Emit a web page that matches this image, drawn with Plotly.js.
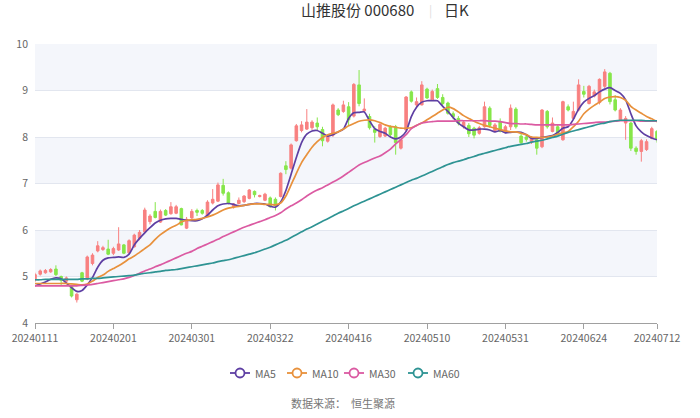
<!DOCTYPE html>
<html>
<head>
<meta charset="utf-8">
<script src="https://cdn.plot.ly/plotly-3.0.1.min.js"></script>
<style>html,body{margin:0;padding:0;background:#fff;}#chart{width:700px;height:418px;}</style>
</head>
<body>
<div id="chart"></div>
<script>
const dates = [
 '20240111','20240112','20240115','20240116','20240117','20240118','20240119','20240122','20240123','20240124','20240125','20240126','20240129','20240130','20240131',
 '20240201','20240202','20240205','20240206','20240207','20240208','20240219','20240220','20240221','20240222','20240223','20240226','20240227','20240228','20240229',
 '20240301','20240304','20240305','20240306','20240307','20240308','20240311','20240312','20240313','20240314','20240315','20240318','20240319','20240320','20240321','20240322','20240325','20240326','20240327','20240328','20240329',
 '20240401','20240402','20240403','20240408','20240409','20240410','20240411','20240412','20240415','20240416','20240417','20240418','20240419','20240422','20240423','20240424','20240425','20240426','20240429','20240430',
 '20240506','20240507','20240508','20240509','20240510','20240513','20240514','20240515','20240516','20240517','20240520','20240521','20240522','20240523','20240524','20240527','20240528','20240529','20240530','20240531',
 '20240603','20240604','20240605','20240606','20240607','20240611','20240612','20240613','20240614','20240617','20240618','20240619','20240620','20240621','20240624','20240625','20240626','20240627','20240628',
 '20240701','20240702','20240703','20240704','20240705','20240708','20240709','20240710','20240711','20240712'
];
const openP = [4.92,5.05,5.08,5.10,5.16,5.00,4.90,4.80,4.50,5.08,4.95,5.28,5.55,5.58,5.59,5.50,5.57,5.68,5.51,5.64,5.82,5.96,6.18,6.40,6.17,6.42,6.35,6.36,6.46,6.04,
 6.26,6.42,6.42,6.30,6.58,6.62,6.96,6.80,6.50,6.57,6.61,6.68,6.83,6.72,6.64,6.69,6.66,6.72,7.38,7.33,7.92,8.14,8.17,8.20,8.30,8.16,7.91,8.04,8.58,8.55,
 8.65,8.45,9.12,8.56,8.44,8.16,8.01,8.02,8.22,8.22,7.76,8.15,8.97,8.69,8.69,9.03,8.80,9.04,8.85,8.73,8.50,8.40,8.22,8.25,8.19,8.08,8.22,8.62,8.14,8.33,
 8.12,8.22,8.60,8.02,8.00,7.90,7.94,7.79,8.55,8.12,8.22,7.94,8.65,8.40,8.58,8.98,8.72,8.88,8.74,9.09,9.37,8.80,8.37,8.30,8.30,7.76,7.69,7.73,7.97,8.12];
const highP = [5.08,5.15,5.16,5.18,5.24,5.02,5.00,4.82,4.64,5.10,5.45,5.50,5.76,5.66,5.79,5.64,6.06,5.70,5.80,5.92,6.00,6.48,6.34,6.60,6.44,6.45,6.60,6.54,6.48,6.28,
 6.45,6.46,6.45,6.64,6.88,7.02,7.10,6.83,6.58,6.70,6.75,6.88,6.85,6.76,6.80,6.72,6.70,7.24,7.48,7.86,8.28,8.34,8.60,8.36,8.42,8.22,8.03,8.72,8.62,8.78,
 8.75,9.16,9.44,8.83,8.50,8.23,8.30,8.22,8.25,8.26,7.96,8.88,9.00,8.85,9.20,9.06,9.02,9.14,8.92,8.76,8.55,8.45,8.36,8.30,8.22,8.24,8.76,8.66,8.30,8.40,
 8.26,8.70,8.64,8.08,8.04,8.02,7.98,8.60,8.58,8.42,8.26,8.78,8.70,8.76,9.24,9.10,9.12,9.02,9.26,9.46,9.40,8.90,8.62,8.45,8.32,7.80,7.96,7.95,8.22,8.15];
const lowP = [4.88,5.02,5.06,5.08,5.01,4.82,4.87,4.55,4.44,4.88,4.92,5.24,5.52,5.55,5.46,5.46,5.55,5.48,5.49,5.62,5.78,5.94,6.12,6.25,6.15,6.30,6.33,6.34,6.10,6.02,
 6.22,6.30,6.33,6.28,6.55,6.60,6.74,6.55,6.46,6.55,6.58,6.66,6.70,6.70,6.62,6.48,6.42,6.70,7.20,7.30,7.90,8.10,8.15,8.15,8.14,7.80,7.88,8.00,8.45,8.52,
 8.25,8.42,8.66,8.52,8.16,7.88,7.98,8.00,8.02,7.62,7.73,8.12,8.74,8.62,8.68,8.82,8.78,8.82,8.68,8.48,8.38,8.25,8.18,8.00,7.97,8.05,8.20,8.20,8.10,8.10,
 8.08,8.15,8.18,7.85,7.90,7.85,7.62,7.76,8.18,8.10,8.04,7.92,8.55,8.38,8.55,8.85,8.70,8.85,8.70,9.05,8.70,8.55,8.35,7.94,7.70,7.62,7.47,7.70,7.95,7.88];
const closeP = [5.04,5.12,5.13,5.15,5.04,4.92,4.97,4.58,4.62,4.90,5.42,5.46,5.66,5.62,5.48,5.60,5.70,5.50,5.77,5.89,5.95,6.43,6.30,6.27,6.40,6.32,6.50,6.50,6.11,6.23,
 6.40,6.38,6.36,6.60,6.66,6.97,6.79,6.57,6.56,6.64,6.73,6.86,6.76,6.74,6.77,6.50,6.52,7.22,7.30,7.83,8.24,8.26,8.32,8.32,8.22,7.92,8.01,8.69,8.48,8.69,
 8.37,9.13,8.72,8.60,8.20,8.10,8.27,8.19,8.05,7.88,7.94,8.86,8.77,8.76,9.12,8.84,8.98,8.85,8.72,8.51,8.44,8.30,8.32,8.07,8.04,8.20,8.65,8.25,8.26,8.12,
 8.22,8.62,8.22,7.88,7.95,7.98,7.76,8.58,8.22,8.30,8.08,8.76,8.58,8.55,9.12,8.92,9.09,8.97,9.24,9.40,8.76,8.58,8.58,8.40,7.76,7.69,7.92,7.90,8.18,7.95];
const ma5 = [4.80,4.84,4.88,4.94,4.97,4.95,4.86,4.76,4.68,4.70,4.82,4.98,5.20,5.35,5.40,5.41,5.42,5.41,5.48,5.68,5.82,5.94,6.05,6.15,6.21,6.24,6.25,6.25,6.23,6.21,
 6.20,6.20,6.24,6.32,6.43,6.52,6.56,6.57,6.55,6.52,6.53,6.55,6.57,6.57,6.56,6.51,6.49,6.60,6.85,7.20,7.56,7.88,8.06,8.13,8.14,8.08,8.02,8.05,8.11,8.17,
 8.40,8.52,8.53,8.54,8.35,8.18,8.12,8.08,8.00,7.96,8.00,8.12,8.44,8.64,8.75,8.78,8.78,8.78,8.66,8.55,8.42,8.30,8.22,8.15,8.15,8.17,8.17,8.15,8.11,8.14,
 8.09,8.10,8.11,8.10,8.05,7.97,7.97,7.99,8.01,8.03,8.10,8.19,8.22,8.38,8.60,8.75,8.83,8.89,8.97,9.03,9.06,9.00,8.94,8.80,8.50,8.24,8.11,8.03,7.98,7.94];
const ma10 = [4.85,4.85,4.85,4.85,4.85,4.85,4.85,4.84,4.83,4.82,4.84,4.90,4.98,5.03,5.11,5.17,5.23,5.30,5.38,5.44,5.52,5.60,5.68,5.80,5.90,5.98,6.05,6.10,6.17,6.21,
 6.22,6.23,6.25,6.28,6.32,6.37,6.43,6.47,6.49,6.51,6.53,6.55,6.56,6.56,6.55,6.55,6.54,6.58,6.73,6.97,7.22,7.45,7.62,7.78,7.90,7.99,8.05,8.08,8.11,8.17,
 8.24,8.29,8.34,8.36,8.37,8.35,8.31,8.26,8.23,8.21,8.19,8.19,8.20,8.25,8.30,8.37,8.44,8.51,8.58,8.64,8.61,8.54,8.46,8.40,8.34,8.29,8.25,8.22,8.19,8.16,
 8.13,8.11,8.11,8.08,8.05,8.00,7.99,7.99,8.00,8.02,8.06,8.09,8.12,8.22,8.34,8.50,8.60,8.68,8.75,8.83,8.86,8.87,8.85,8.79,8.66,8.58,8.51,8.44,8.39,8.33];
const ma30 = [4.80,4.80,4.80,4.80,4.80,4.80,4.80,4.80,4.80,4.81,4.82,4.83,4.85,4.87,4.89,4.91,4.93,4.95,4.98,5.02,5.07,5.12,5.16,5.21,5.25,5.30,5.35,5.40,5.45,5.50,
 5.54,5.60,5.65,5.70,5.75,5.80,5.86,5.91,5.96,6.01,6.06,6.10,6.14,6.18,6.22,6.27,6.31,6.37,6.45,6.52,6.58,6.65,6.73,6.80,6.86,6.91,6.97,7.03,7.09,7.16,
 7.24,7.32,7.40,7.45,7.50,7.55,7.59,7.66,7.74,7.85,7.95,8.05,8.18,8.25,8.30,8.32,8.33,8.34,8.34,8.34,8.34,8.35,8.35,8.35,8.35,8.35,8.35,8.34,8.34,8.33,
 8.31,8.29,8.29,8.28,8.28,8.27,8.26,8.26,8.26,8.26,8.26,8.26,8.26,8.27,8.28,8.29,8.30,8.31,8.32,8.32,8.33,8.34,8.35,8.35,8.35,8.35,8.34,8.34,8.34,8.34];
const ma60 = [4.93,4.93,4.94,4.94,4.94,4.94,4.94,4.94,4.94,4.95,4.95,4.96,4.96,4.97,4.98,4.99,5.00,5.01,5.02,5.03,5.05,5.07,5.08,5.10,5.11,5.13,5.14,5.15,5.17,5.19,
 5.21,5.23,5.25,5.27,5.29,5.32,5.34,5.36,5.39,5.42,5.45,5.48,5.51,5.55,5.59,5.63,5.68,5.73,5.78,5.84,5.90,5.96,6.02,6.07,6.13,6.19,6.24,6.30,6.36,6.41,
 6.46,6.52,6.57,6.62,6.67,6.72,6.77,6.82,6.87,6.92,6.97,7.02,7.07,7.11,7.16,7.21,7.26,7.31,7.36,7.41,7.45,7.48,7.51,7.55,7.58,7.62,7.65,7.68,7.71,7.74,
 7.77,7.80,7.82,7.84,7.86,7.89,7.91,7.93,7.96,7.99,8.02,8.06,8.10,8.13,8.16,8.19,8.22,8.25,8.28,8.30,8.33,8.35,8.36,8.36,8.36,8.36,8.36,8.35,8.35,8.35];
const tickDates = ['20240111','20240201','20240301','20240322','20240416','20240510','20240531','20240624','20240712'];
const maNames = ['MA5','MA10','MA30','MA60'];
const maColors = ['#5e3fa3','#e8913c','#db5aa2','#2e9393'];
const maSeries = [ma5, ma10, ma30, ma60];

const traces = [{
  type: 'candlestick', x: dates, open: openP, high: highP, low: lowP, close: closeP,
  increasing: {line: {color: '#f88080', width: 1}, fillcolor: '#f88080'},
  decreasing: {line: {color: '#86e64a', width: 1}, fillcolor: '#86e64a'},
  whiskerwidth: 0, showlegend: false, hoverinfo: 'skip'
}];
maSeries.forEach((s, k) => {
  traces.push({type: 'scatter', mode: 'lines', x: dates, y: s, name: maNames[k], showlegend: false,
    line: {color: maColors[k], width: 1.7, shape: 'spline', smoothing: 0.6}, hoverinfo: 'skip'});
});

// pixel helpers for the page layout (plot area: x 35..657, y 44..323)
const PL = 35, PW = 622, PB = 323, PH = 279;
const px = v => (v - PL) / PW;
const py = v => (PB - v) / PH;

const bandShapes = [[5,6],[7,8],[9,10]].map(b => ({type: 'rect', xref: 'paper', yref: 'y', x0: 0, x1: 1, y0: b[0], y1: b[1],
  fillcolor: '#f4f6fb', line: {width: 0}, layer: 'below'}));

// legend drawn as icons + real text
const legendIconX = [240, 297, 354, 418];
const legendY = 373;
const legendShapes = [];
const legendAnn = [];
maNames.forEach((n, k) => {
  const cx = legendIconX[k];
  legendShapes.push({type: 'line', xref: 'paper', yref: 'paper', x0: px(cx - 10), x1: px(cx + 10), y0: py(legendY), y1: py(legendY),
    line: {color: maColors[k], width: 1.8}});
  legendShapes.push({type: 'circle', xref: 'paper', yref: 'paper', x0: px(cx - 4.5), x1: px(cx + 4.5), y0: py(legendY + 4.5), y1: py(legendY - 4.5),
    fillcolor: '#ffffff', line: {color: maColors[k], width: 1.8}});
  legendAnn.push({text: n, xref: 'paper', yref: 'paper', x: px(cx + 13), y: py(legendY), xanchor: 'left', yanchor: 'middle',
    showarrow: false, font: {size: 10.5, color: '#666'}});
});

const layout = {
  width: 700, height: 418,
  margin: {l: 35, r: 43, t: 44, b: 95},
  paper_bgcolor: '#ffffff', plot_bgcolor: '#ffffff',
  font: {family: '"Noto Sans CJK SC", "Noto Sans", sans-serif', size: 11, color: '#666'},
  xaxis: {type: 'category', range: [0, 119], tickvals: tickDates, ticktext: tickDates,
    ticks: 'outside', ticklen: 5, tickcolor: '#a0a0a0', showline: true, linecolor: '#a0a0a0', linewidth: 1,
    showgrid: false, zeroline: false, rangeslider: {visible: false}, tickangle: 0,
    tickfont: {size: 10.5, color: '#666'}, fixedrange: true},
  yaxis: {range: [4, 10], dtick: 1, tick0: 4, showgrid: true, gridcolor: '#e2e6ef', gridwidth: 1,
    zeroline: false, showline: false, ticks: '', ticklabelstandoff: 6,
    tickfont: {size: 10.5, color: '#666'}, fixedrange: true},
  shapes: bandShapes.concat(legendShapes),
  showlegend: false,
  annotations: [
    {text: '山推股份 000680', xref: 'paper', yref: 'paper', x: px(416), y: py(10), xanchor: 'right', yanchor: 'middle',
      showarrow: false, font: {size: 15, color: '#333'}},
    {text: '|', xref: 'paper', yref: 'paper', x: px(430), y: py(10), xanchor: 'center', yanchor: 'middle',
      showarrow: false, font: {size: 12, color: '#ddd'}},
    {text: '日K', xref: 'paper', yref: 'paper', x: px(442), y: py(10), xanchor: 'left', yanchor: 'middle',
      showarrow: false, font: {size: 15, color: '#333'}},
    {text: '数据来源：  恒生聚源', xref: 'paper', yref: 'paper', x: px(343), y: py(403), xanchor: 'center', yanchor: 'middle',
      showarrow: false, font: {size: 11, color: '#777'}}
  ].concat(legendAnn)
};
Plotly.newPlot('chart', traces, layout, {displayModeBar: false, staticPlot: true});
</script>
</body>
</html>
